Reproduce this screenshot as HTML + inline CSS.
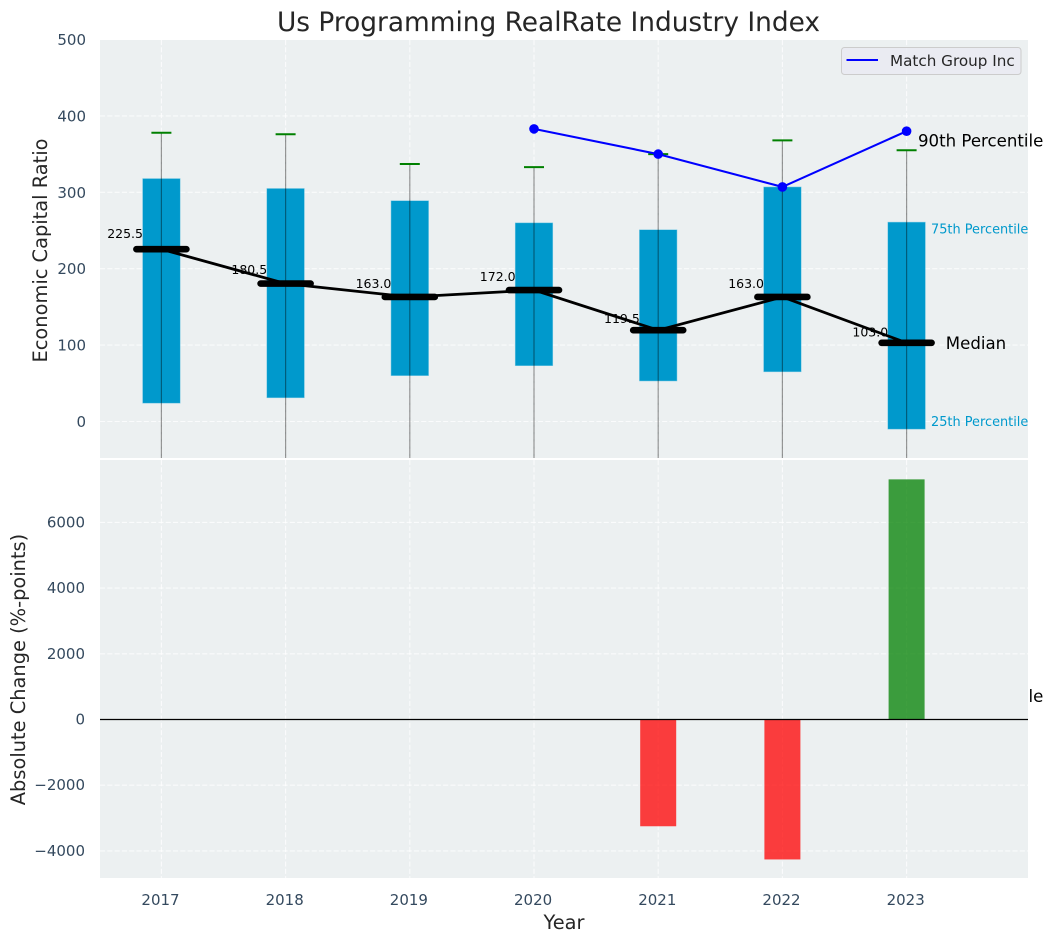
<!DOCTYPE html>
<html>
<head>
<meta charset="utf-8">
<style>
html,body{margin:0;padding:0;background:#fff;}
svg{display:block;}
text{font-family:"DejaVu Sans","Liberation Sans",sans-serif;}
</style>
</head>
<body>
<svg id="chart" xmlns="http://www.w3.org/2000/svg" width="1053" height="942" viewBox="0 0 1053 942">
<defs><clipPath id="top-clip"><rect x="100" y="40" width="928" height="418"/></clipPath><clipPath id="bot-clip"><rect x="100" y="460" width="928" height="418"/></clipPath></defs>
</svg>
<script>
var years = [2017, 2018, 2019, 2020, 2021, 2022, 2023];
var q1 = [24, 31, 60, 73, 53, 65, -10];
var q3 = [318, 305, 289, 260, 251, 307, 261];
var medians = [225.5, 180.5, 163.0, 172.0, 119.5, 163.0, 103.0];
var whiskerHigh = [378, 376, 337, 333, 350, 368, 355];
var whiskerLow = [-240, -230, -210, -190, -250, -300, -340];
var matchYears = [2020, 2021, 2022, 2023];
var matchValues = [383, 350, 307, 380];
var changeYears = [2021, 2022, 2023];
var changeValues = [-3250, -4260, 7310];
var topTicks = [0, 100, 200, 300, 400, 500];
var bottomTicks = [-4000, -2000, 0, 2000, 4000, 6000];
var percentileLabels = ["90th Percentile", "75th Percentile", "Median", "25th Percentile", "10th Percentile"];
var percentileValues = [368, 252, 103, 0, -359];

var svg = document.getElementById('chart');
var NS = 'http://www.w3.org/2000/svg';
function xS(v){ return 161.4 + (v - 2017) * 124.2; }
function yT(v){ return 421.5 - v * 0.764; }
function yB(v){ return 719.5 - v * 0.03285; }
function mk(tag, attrs, parent, txt){
  var e = document.createElementNS(NS, tag);
  for (var k in attrs) e.setAttribute(k, attrs[k]);
  if (txt !== undefined) e.textContent = txt;
  (parent || svg).appendChild(e);
  return e;
}
function fmt(v){ return (v < 0 ? '\u2212' + (-v) : '' + v); }
var el;

// title
el = mk('text', {x: 548.5, y: 31, 'text-anchor': 'middle', 'font-size': 26.4, fill: '#262626'}, svg, 'Us Programming RealRate Industry Index');



// top panel
var topBg = mk('rect', {x: 100, y: 40, width: 928, height: 418, fill: '#ecf0f1'});



var topGroup = mk('g', {'clip-path': 'url(#top-clip)'});



topTicks.forEach(function(t){
  var g = mk('line', {x1: 100, x2: 1028, y1: yT(t), y2: yT(t), stroke: '#fff', 'stroke-opacity': 0.75, 'stroke-width': 1.1, 'stroke-dasharray': '5.1 2.2'}, topGroup);
  
  
  var l = mk('text', {x: 86, y: yT(t) + 5.5, 'text-anchor': 'end', 'font-size': 15, fill: '#34495e'}, svg, fmt(t));
  
  
});
years.forEach(function(y){
  var g = mk('line', {x1: xS(y), x2: xS(y), y1: 40, y2: 458, stroke: '#fff', 'stroke-opacity': 0.75, 'stroke-width': 1.1, 'stroke-dasharray': '5.1 2.2'}, topGroup);
  
  
});

// median value labels sit below the boxes
years.forEach(function(y, i){
  var t = mk('text', {x: xS(y) - 18.4, y: yT(medians[i] * 1.05) - 2.5, 'text-anchor': 'end', 'font-size': 12.5, fill: '#000'}, svg, medians[i].toFixed(1));
  
  
});

// boxes, whiskers, caps
years.forEach(function(y, i){
  var b = mk('rect', {x: xS(y) - 18.8, y: yT(q3[i]), width: 37.6, height: yT(q1[i]) - yT(q3[i]), fill: '#0099cc', stroke: '#7fcbe5', 'stroke-width': 0.5}, svg);
  
  
  var w = mk('line', {x1: xS(y), x2: xS(y), y1: yT(whiskerHigh[i]), y2: yT(whiskerLow[i]), stroke: '#000', 'stroke-opacity': 0.4, 'stroke-width': 1.2, 'clip-path': 'url(#top-clip)'}, svg);
  
  
  var c = mk('line', {x1: xS(y) - 10, x2: xS(y) + 10, y1: yT(whiskerHigh[i]), y2: yT(whiskerHigh[i]), stroke: '#008000', 'stroke-width': 2}, svg);
  
  
});

// median line and bars
var medianPath = mk('polyline', {points: years.map(function(y, i){ return xS(y) + ',' + yT(medians[i]); }).join(' '), fill: 'none', stroke: '#000', 'stroke-width': 2.8}, svg);


years.forEach(function(y, i){
  var m = mk('line', {x1: xS(y) - 25, x2: xS(y) + 25, y1: yT(medians[i]), y2: yT(medians[i]), stroke: '#000', 'stroke-width': 6.6, 'stroke-linecap': 'round'}, svg);
  
  
});

// match group series
var matchLine = mk('polyline', {points: matchYears.map(function(y, i){ return xS(y) + ',' + yT(matchValues[i]); }).join(' '), fill: 'none', stroke: '#0000ff', 'stroke-width': 2.1}, svg);


matchYears.forEach(function(y, i){
  var p = mk('circle', {cx: xS(y), cy: yT(matchValues[i]), r: 4.8, fill: '#0000ff'}, svg);
  
  
});

// percentile annotations
var annotationStyle = [
  {dx: 11.4, size: 16.6, fill: '#000'},
  {dx: 24.4, size: 12.9, fill: '#0099cc'},
  {dx: 39.2, size: 16.6, fill: '#000'},
  {dx: 24.4, size: 12.9, fill: '#0099cc'},
  {dx: 11.4, size: 16.6, fill: '#000'}
];
percentileLabels.forEach(function(s, i){
  var st = annotationStyle[i];
  var t = mk('text', {x: xS(2023) + st.dx, y: yT(percentileValues[i]) + st.size * 0.36, 'font-size': st.size, fill: st.fill}, svg, s);
  
  
});

// legend
var lg = mk('g', {});


var lgBox = mk('rect', {x: 841.5, y: 47.5, width: 179.5, height: 27, rx: 3, fill: '#eaeaf2', 'fill-opacity': 0.85, stroke: '#cccccc', 'stroke-width': 1}, lg);


var lgLine = mk('line', {x1: 846.5, x2: 878, y1: 60, y2: 60, stroke: '#0000ff', 'stroke-width': 2.1}, lg);


var lgText = mk('text', {x: 890, y: 66, 'font-size': 15.2, fill: '#262626'}, lg, 'Match Group Inc');



// bottom panel (painted over any overflow of the top annotations)
var botBg = mk('rect', {x: 100, y: 460, width: 928, height: 418, fill: '#ecf0f1'});



var botGroup = mk('g', {'clip-path': 'url(#bot-clip)'});



bottomTicks.forEach(function(t){
  var g = mk('line', {x1: 100, x2: 1028, y1: yB(t), y2: yB(t), stroke: '#fff', 'stroke-opacity': 0.75, 'stroke-width': 1.1, 'stroke-dasharray': '5.1 2.2'}, botGroup);
  
  
  var l = mk('text', {x: 85, y: yB(t) + 5, 'text-anchor': 'end', 'font-size': 15, fill: '#34495e'}, svg, fmt(t));
  
  
});
years.forEach(function(y){
  var g = mk('line', {x1: xS(y), x2: xS(y), y1: 460, y2: 878, stroke: '#fff', 'stroke-opacity': 0.75, 'stroke-width': 1.1, 'stroke-dasharray': '5.1 2.2'}, botGroup);
  
  
  var l = mk('text', {x: xS(y) - 0.9, y: 905, 'text-anchor': 'middle', 'font-size': 15, fill: '#34495e'}, svg, String(y));
  
  
});
changeYears.forEach(function(y, i){
  var v = changeValues[i];
  var r = mk('rect', {x: xS(y) - 18, width: 36, y: Math.min(yB(v), yB(0)), height: Math.abs(yB(v) - yB(0)), fill: v < 0 ? '#ff0000' : '#008000', 'fill-opacity': 0.75}, botGroup);
  
  
});
var zero = mk('line', {x1: 100, x2: 1028, y1: yB(0), y2: yB(0), stroke: '#000', 'stroke-width': 1.2}, botGroup);



// axis titles
el = mk('text', {x: 564, y: 929, 'text-anchor': 'middle', 'font-size': 19.4, fill: '#262626'}, svg, 'Year');


el = mk('text', {transform: 'translate(47,250.5) rotate(-90)', 'text-anchor': 'middle', 'font-size': 19.4, fill: '#262626'}, svg, 'Economic Capital Ratio');


el = mk('text', {transform: 'translate(25,669.5) rotate(-90)', 'text-anchor': 'middle', 'font-size': 19.4, fill: '#262626'}, svg, 'Absolute Change (%-points)');


</script>
</body>
</html>
